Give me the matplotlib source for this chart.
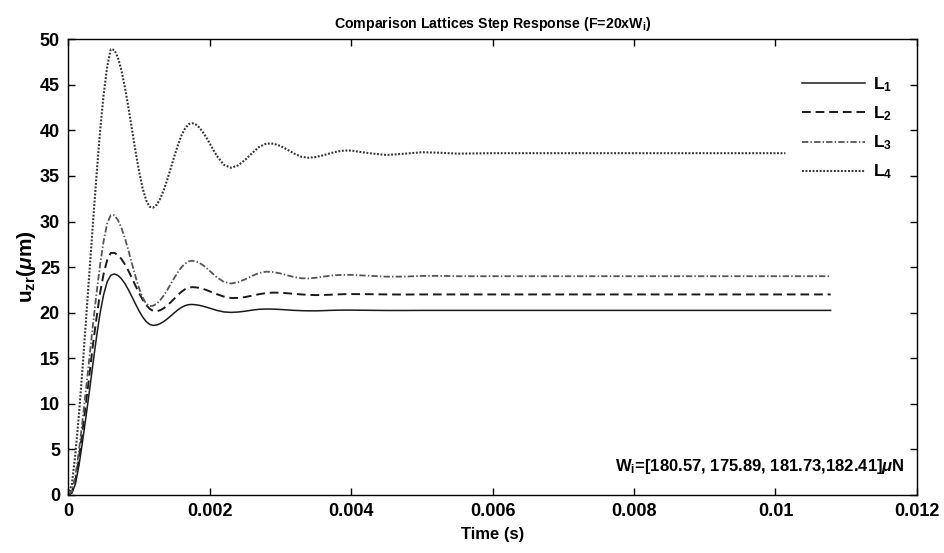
import numpy as np
import matplotlib.pyplot as plt

plt.rcParams['font.family'] = ['Liberation Sans', 'DejaVu Sans']
plt.rcParams['font.weight'] = 'bold'
plt.rcParams['mathtext.fontset'] = 'custom'
plt.rcParams['mathtext.rm'] = 'Liberation Sans:bold'
plt.rcParams['mathtext.bf'] = 'Liberation Sans:bold'
plt.rcParams['mathtext.it'] = 'Liberation Sans:italic'
plt.rcParams['mathtext.default'] = 'rm'

# time samples, in ms
t_ms = [0, 0.05, 0.1, 0.15, 0.2, 0.25, 0.3, 0.35, 0.4, 0.45,
        0.5, 0.55, 0.6, 0.65, 0.7, 0.75, 0.8, 0.85, 0.9, 0.95,
        1.0, 1.05, 1.1, 1.15, 1.2, 1.25, 1.3, 1.35, 1.4, 1.45,
        1.5, 1.55, 1.6, 1.65, 1.7, 1.75, 1.8, 1.85, 1.9, 1.95,
        2.0,
        2.1, 2.2, 2.3, 2.4, 2.5, 2.6, 2.7, 2.8, 2.9, 3.0,
        3.1, 3.2, 3.3, 3.4, 3.5, 3.6, 3.7, 3.8, 3.9, 4.0,
        4.25, 4.5, 4.75, 5.0, 5.25, 5.5,
        6.0, 7.0, 8.0, 9.0, 10.0]
t_end_L123 = 10.78
t_end_L4 = 10.14

# displacement u_zr (um)
L1 = [0, 0.2, 1.2, 3.2, 5.8, 8.6, 11.5, 14.5, 17.4, 20.0,
      22.0, 23.4, 24.1, 24.25, 24.09, 23.73, 23.19, 22.51, 21.74, 20.95,
      20.20, 19.54, 19.03, 18.71, 18.60, 18.65, 18.80, 19.03, 19.32, 19.65,
      19.99, 20.31, 20.57, 20.77, 20.88, 20.90, 20.87, 20.81, 20.72, 20.61,
      20.49,
      20.25, 20.08, 20.03, 20.07, 20.16, 20.28, 20.37, 20.40, 20.39, 20.35,
      20.30, 20.25, 20.22, 20.20, 20.20, 20.22, 20.25, 20.27, 20.28, 20.28,
      20.26, 20.24, 20.24, 20.25, 20.25, 20.25,
      20.25, 20.25, 20.25, 20.25, 20.25, 20.25]
L2 = [0, 0.3, 1.6, 4.0, 7.0, 10.1, 13.3, 16.6, 19.5, 22.2,
      24.3, 25.8, 26.55, 26.56, 26.33, 25.90, 25.31, 24.59, 23.79, 22.96,
      22.16, 21.44, 20.84, 20.42, 20.19, 20.16, 20.27, 20.48, 20.79, 21.16,
      21.55, 21.95, 22.29, 22.57, 22.74, 22.80, 22.78, 22.72, 22.62, 22.49,
      22.34,
      22.03, 21.76, 21.61, 21.62, 21.71, 21.87, 22.03, 22.15, 22.20, 22.18,
      22.13, 22.06, 22.00, 21.95, 21.93, 21.94, 21.97, 22.00, 22.03, 22.04,
      22.03, 22.00, 21.99, 22.00, 22.00, 22.00,
      22.0, 22.0, 22.0, 22.0, 22.0, 22.0]
L3 = [0, 0.4, 2.1, 4.8, 8.1, 11.6, 15.2, 18.8, 22.2, 25.3,
      27.9, 29.8, 30.7, 30.69, 30.19, 29.33, 28.17, 26.82, 25.37, 23.96,
      22.69, 21.67, 21.00, 20.71, 20.76, 20.99, 21.38, 21.89, 22.50, 23.17,
      23.83, 24.45, 24.98, 25.38, 25.63, 25.70, 25.64, 25.48, 25.23, 24.93,
      24.58,
      23.88, 23.37, 23.20, 23.34, 23.66, 24.04, 24.36, 24.50, 24.45, 24.30,
      24.09, 23.90, 23.77, 23.76, 23.83, 23.95, 24.05, 24.12, 24.15, 24.15,
      24.05, 23.95, 23.96, 24.03, 24.04, 24.00,
      24.0, 24.0, 24.0, 24.0, 24.0, 24.0]
L4 = [0, 1.2, 4.5, 8.8, 13.8, 19.2, 24.6, 30.0, 35.2, 40.0,
      44.0, 47.0, 48.9, 48.83, 48.02, 46.62, 44.74, 42.51, 40.11, 37.71,
      35.52, 33.68, 32.34, 31.62, 31.53, 31.85, 32.51, 33.46, 34.61, 35.89,
      37.18, 38.40, 39.44, 40.21, 40.68, 40.80, 40.66, 40.33, 39.84, 39.24,
      38.56,
      37.21, 36.22, 35.90, 36.16, 36.76, 37.52, 38.19, 38.56, 38.55, 38.29,
      37.87, 37.43, 37.10, 37.00, 37.08, 37.26, 37.48, 37.68, 37.79, 37.79,
      37.50, 37.30, 37.44, 37.60, 37.55, 37.45,
      37.5, 37.5, 37.5, 37.5, 37.5, 37.5]

labels = ['L$_1$', 'L$_2$', 'L$_3$', 'L$_4$']
xticks = [0, 0.002, 0.004, 0.006, 0.008, 0.01, 0.012]
xtick_labels = ['0', '0.002', '0.004', '0.006', '0.008', '0.01', '0.012']
yticks = [0, 5, 10, 15, 20, 25, 30, 35, 40, 45, 50]

fig = plt.figure(figsize=(9.45, 5.53), dpi=100)
ax = fig.add_axes([0.0723, 0.105, 0.898, 0.824])

t123 = np.array(t_ms + [t_end_L123]) * 1e-3
t4 = np.array(t_ms + [t_end_L4]) * 1e-3

ax.plot(t123, L1, color='#1a1a1a', lw=1.1, ls='-', label=labels[0])
ax.plot(t123, L2, color='#1a1a1a', lw=1.4, ls=(0, (4.5, 2.5)), label=labels[1])
ax.plot(t123, L3, color='#555555', lw=1.3, ls=(0, (3.5, 1.2, 0.8, 1.2)), label=labels[2])
ax.plot(t4, L4, color='#333333', lw=1.5, ls=(0, (0.9, 0.8)), label=labels[3])

ax.set_xlim(0, 0.012)
ax.set_ylim(0, 50)
ax.set_xticks(xticks)
ax.set_xticklabels(xtick_labels)
ax.set_yticks(yticks)
ax.tick_params(direction='in', length=5, width=1, top=True, right=True,
               labelsize=13, pad=6)
for lab in ax.get_xticklabels() + ax.get_yticklabels():
    lab.set_fontweight('bold')
for sp in ax.spines.values():
    sp.set_linewidth(1.0)

ax.set_title('Comparison Lattices Step Response (F=20xW$_\\mathrm{i}$)',
             fontsize=10.2, fontweight='bold', pad=8)
ax.set_xlabel('Time (s)', fontsize=12, fontweight='bold', labelpad=5)
ax.set_ylabel('u$_{\\mathrm{zr}}$($\\mathit{\\mu}$m)', fontsize=15, fontweight='bold',
              labelpad=1)

ax.text(0.986, 0.062, 'W$_\\mathrm{i}$=[180.57, 175.89, 181.73,182.41]$\\mathit{\\mu}$N',
        transform=ax.transAxes, ha='right', va='center', fontsize=12,
        fontweight='bold')

leg = ax.legend(loc='upper right', bbox_to_anchor=(0.99, 0.955), frameon=False,
                fontsize=12.5, handlelength=3.6, handletextpad=0.5,
                labelspacing=0.6)
for txt in leg.get_texts():
    txt.set_fontweight('bold')

fig.savefig('out.png', dpi=100)
